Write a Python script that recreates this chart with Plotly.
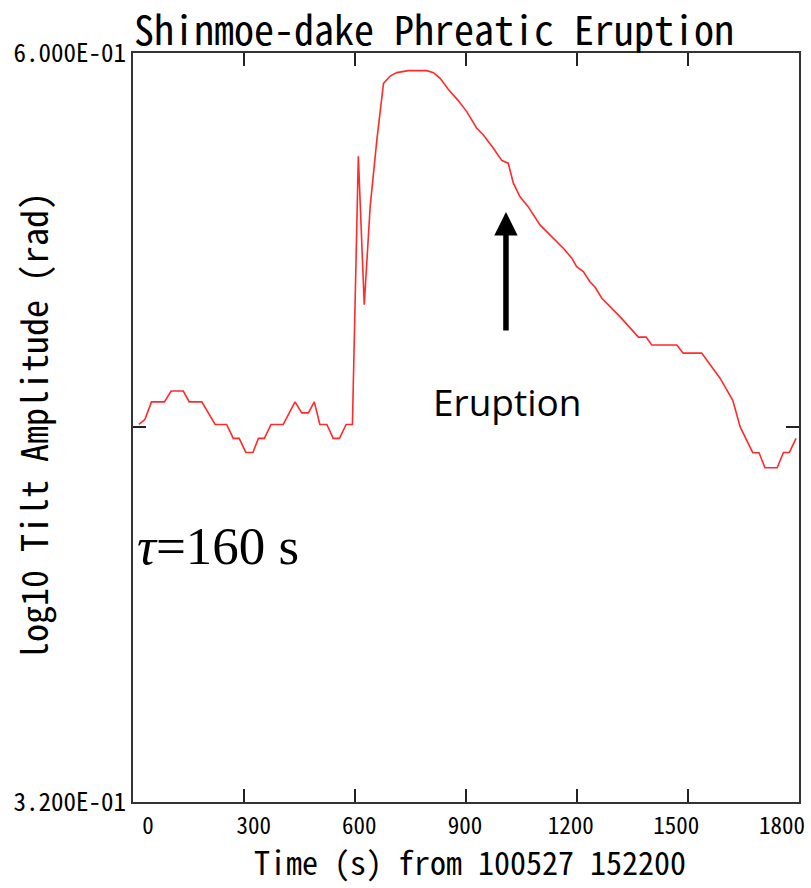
import plotly.graph_objects as go
import math

# Time (s) from 100527 152200
time_s = [16, 32, 50, 85, 103, 136, 152, 186, 222, 253, 271, 287, 305, 324, 339, 355,
          373, 406, 438, 456, 474, 490, 505, 524, 541, 558, 576, 593, 609, 625, 641, 659,
          677, 695, 713, 744, 794, 812, 830, 852, 879, 902, 929, 947, 974, 997, 1014, 1028,
          1046, 1068, 1100, 1122, 1163, 1186, 1199, 1217, 1235, 1249, 1267, 1316, 1366, 1387,
          1402, 1470, 1487, 1537, 1587, 1621, 1641, 1675, 1692, 1708, 1741, 1758, 1774, 1792]
# Tilt amplitude (rad), plotted on a log10 axis
tilt_amp = [0.4393, 0.4411, 0.4477, 0.4477, 0.4518, 0.4518, 0.4477, 0.4477, 0.4393, 0.4393,
            0.4342, 0.4342, 0.4291, 0.4291, 0.4342, 0.4342, 0.4393, 0.4393, 0.4477, 0.4436,
            0.4436, 0.4477, 0.4393, 0.4393, 0.4342, 0.4342, 0.4393, 0.4393, 0.5502, 0.4857,
            0.5274, 0.5577, 0.5849, 0.5885, 0.5902, 0.5912, 0.5912, 0.5902, 0.5874, 0.5820,
            0.5765, 0.5712, 0.5633, 0.5601, 0.5539, 0.5482, 0.5470, 0.5379, 0.5318, 0.5274,
            0.5194, 0.5158, 0.5093, 0.5051, 0.5015, 0.4994, 0.4952, 0.4929, 0.4884, 0.4809,
            0.4727, 0.4727, 0.4696, 0.4696, 0.4664, 0.4664, 0.4566, 0.4483, 0.4384, 0.4290,
            0.4290, 0.4236, 0.4236, 0.4291, 0.4291, 0.4342]

x_tick_vals = [0, 300, 600, 900, 1200, 1500, 1800]
x_tick_text = ["0", "300", "600", "900", "1200", "1500", "1800"]
y_min, y_mid, y_max = 0.32, 0.4382, 0.60
y_tick_vals = [y_min, y_mid, y_max]
y_tick_text = ["3.200E-01", "", "6.000E-01"]

eruption_time = 1008

MONO = "Noto Sans Mono CJK JP, DejaVu Sans Mono, monospace"

fig = go.Figure()
fig.add_trace(go.Scatter(x=time_s, y=tilt_amp, mode="lines",
                         line=dict(color="#ff2a2a", width=1.6),
                         showlegend=False, hoverinfo="skip"))
# empty trace to carry the label axis
fig.add_trace(go.Scatter(x=[None], y=[None], xaxis="x2", yaxis="y",
                         showlegend=False, hoverinfo="skip"))

W, H = 811, 888
L, R, T, B = 133, 12, 53, 86
pw = W - L - R
ph = H - T - B
lbl_lo, lbl_hi = 148, 782
upx = (lbl_hi - lbl_lo) / 1800.0
r0 = -(lbl_lo - L) / upx
r1 = 1800 + ((W - R) - lbl_hi) / upx

fig.update_layout(
    width=W, height=H,
    margin=dict(l=L, r=R, t=T, b=B),
    paper_bgcolor="white", plot_bgcolor="white",
    title=dict(text="Shinmoe-dake Phreatic Eruption",
               font=dict(family=MONO, size=40, color="black"),
               x=(L + 1) / W, xanchor="left", xref="container",
               y=1 - 31 / H, yanchor="middle", yref="container"),
    xaxis=dict(range=[0, 1800], tickvals=x_tick_vals, showticklabels=False,
               ticks="inside", ticklen=13, tickwidth=1.5, tickcolor="#222",
               showline=True, linecolor="#333", linewidth=2, mirror="ticks",
               showgrid=False, zeroline=False, automargin=False),
    xaxis2=dict(range=[r0, r1], overlaying="x", anchor="y", side="bottom",
                tickvals=x_tick_vals, ticktext=x_tick_text, ticks="",
                showline=False, showgrid=False, zeroline=False,
                tickfont=dict(family=MONO, size=23, color="black"),
                ticklabelstandoff=8, automargin=False),
    yaxis=dict(type="log", range=[math.log10(y_min), math.log10(y_max)],
               tickvals=y_tick_vals, ticktext=y_tick_text,
               ticks="inside", ticklen=13, tickwidth=1.5, tickcolor="#222",
               showline=True, linecolor="#333", linewidth=2, mirror="ticks",
               showgrid=False, zeroline=False, automargin=False,
               tickfont=dict(family=MONO, size=25, color="black")),
    annotations=[
        dict(text="log10 Tilt Amplitude (rad)", textangle=-90,
             xref="paper", yref="paper", x=(32 - L) / pw, y=(802 - 426) / ph,
             xanchor="center", yanchor="middle", showarrow=False,
             font=dict(family=MONO, size=36, color="black")),
        dict(text="Time (s) from 100527 152200",
             xref="paper", yref="paper", x=(470 - L) / pw, y=-59 / ph,
             xanchor="center", yanchor="middle", showarrow=False,
             font=dict(family=MONO, size=32, color="black")),
        dict(text="Eruption", xref="paper", yref="paper",
             x=(431 - L) / pw, y=(802 - 401) / ph,
             xanchor="left", yanchor="middle", showarrow=False,
             font=dict(family="Open Sans, Noto Sans, sans-serif", size=37, color="black")),
        dict(text="", x=eruption_time, xref="x", y=(802 - 212) / ph, yref="paper",
             showarrow=True, arrowhead=2, arrowsize=0.85, arrowwidth=5.5,
             arrowcolor="black", ax=0, ay=120, axref="pixel", ayref="pixel"),
        dict(text="<i>τ</i>=160 s", xref="paper", yref="paper",
             x=(135 - L) / pw, y=(802 - 546) / ph,
             xanchor="left", yanchor="middle", showarrow=False,
             font=dict(family="Liberation Serif, DejaVu Serif, serif", size=53, color="black")),
    ],
)

fig.write_html("out.html")
